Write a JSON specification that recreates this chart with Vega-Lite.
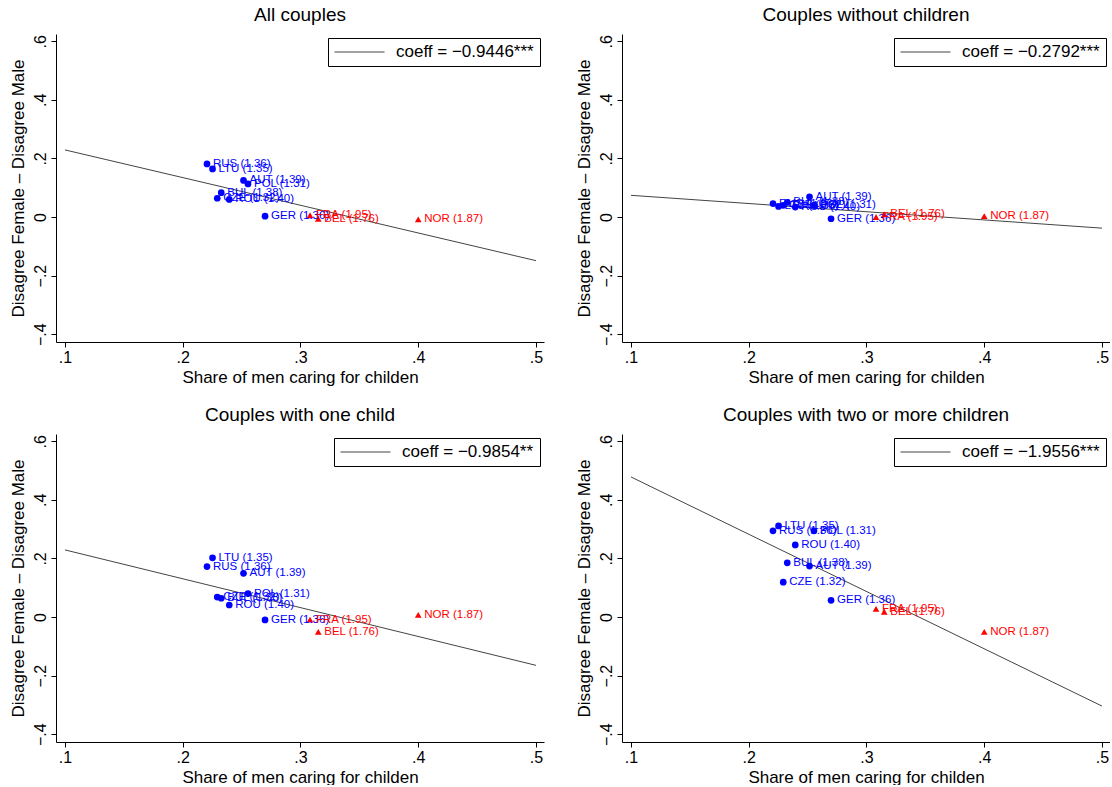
{
  "$schema": "https://vega.github.io/schema/vega-lite/v6.json",
  "background": "white",
  "padding": {"left": 9, "top": 6, "right": 0, "bottom": 0},
  "datasets": {
    "points": [
      {"panel": "all", "country": "RUS", "label": "RUS (1.36)", "group": "low", "x": 0.2206, "y": 0.181},
      {"panel": "all", "country": "LTU", "label": "LTU (1.35)", "group": "low", "x": 0.2253, "y": 0.164},
      {"panel": "all", "country": "AUT", "label": "AUT (1.39)", "group": "low", "x": 0.2516, "y": 0.125},
      {"panel": "all", "country": "POL", "label": "POL (1.31)", "group": "low", "x": 0.2554, "y": 0.113},
      {"panel": "all", "country": "BUL", "label": "BUL (1.38)", "group": "low", "x": 0.2327, "y": 0.083},
      {"panel": "all", "country": "CZE", "label": "CZE (1.32)", "group": "low", "x": 0.2293, "y": 0.064},
      {"panel": "all", "country": "ROU", "label": "ROU (1.40)", "group": "low", "x": 0.2395, "y": 0.060},
      {"panel": "all", "country": "GER", "label": "GER (1.36)", "group": "low", "x": 0.2699, "y": 0.003},
      {"panel": "all", "country": "FRA", "label": "FRA (1.95)", "group": "high", "x": 0.3081, "y": 0.006},
      {"panel": "all", "country": "BEL", "label": "BEL (1.76)", "group": "high", "x": 0.3151, "y": -0.006},
      {"panel": "all", "country": "NOR", "label": "NOR (1.87)", "group": "high", "x": 0.4000, "y": -0.008},

      {"panel": "none", "country": "RUS", "label": "RUS (1.36)", "group": "low", "x": 0.2206, "y": 0.046},
      {"panel": "none", "country": "LTU", "label": "LTU (1.35)", "group": "low", "x": 0.2253, "y": 0.036},
      {"panel": "none", "country": "AUT", "label": "AUT (1.39)", "group": "low", "x": 0.2516, "y": 0.069},
      {"panel": "none", "country": "POL", "label": "POL (1.31)", "group": "low", "x": 0.2554, "y": 0.040},
      {"panel": "none", "country": "BUL", "label": "BUL (1.38)", "group": "low", "x": 0.2327, "y": 0.050},
      {"panel": "none", "country": "CZE", "label": "CZE (1.32)", "group": "low", "x": 0.2293, "y": 0.040},
      {"panel": "none", "country": "ROU", "label": "ROU (1.40)", "group": "low", "x": 0.2395, "y": 0.034},
      {"panel": "none", "country": "GER", "label": "GER (1.36)", "group": "low", "x": 0.2699, "y": -0.006},
      {"panel": "none", "country": "FRA", "label": "FRA (1.95)", "group": "high", "x": 0.3081, "y": 0.000},
      {"panel": "none", "country": "BEL", "label": "BEL (1.76)", "group": "high", "x": 0.3151, "y": 0.009},
      {"panel": "none", "country": "NOR", "label": "NOR (1.87)", "group": "high", "x": 0.4000, "y": 0.003},

      {"panel": "one", "country": "LTU", "label": "LTU (1.35)", "group": "low", "x": 0.2253, "y": 0.202},
      {"panel": "one", "country": "RUS", "label": "RUS (1.36)", "group": "low", "x": 0.2206, "y": 0.172},
      {"panel": "one", "country": "AUT", "label": "AUT (1.39)", "group": "low", "x": 0.2516, "y": 0.149},
      {"panel": "one", "country": "POL", "label": "POL (1.31)", "group": "low", "x": 0.2554, "y": 0.080},
      {"panel": "one", "country": "BUL", "label": "BUL (1.38)", "group": "low", "x": 0.2327, "y": 0.064},
      {"panel": "one", "country": "CZE", "label": "CZE (1.32)", "group": "low", "x": 0.2293, "y": 0.068},
      {"panel": "one", "country": "ROU", "label": "ROU (1.40)", "group": "low", "x": 0.2395, "y": 0.041},
      {"panel": "one", "country": "GER", "label": "GER (1.36)", "group": "low", "x": 0.2699, "y": -0.010},
      {"panel": "one", "country": "FRA", "label": "FRA (1.95)", "group": "high", "x": 0.3081, "y": -0.009},
      {"panel": "one", "country": "BEL", "label": "BEL (1.76)", "group": "high", "x": 0.3151, "y": -0.051},
      {"panel": "one", "country": "NOR", "label": "NOR (1.87)", "group": "high", "x": 0.4000, "y": 0.007},

      {"panel": "two", "country": "LTU", "label": "LTU (1.35)", "group": "low", "x": 0.2253, "y": 0.311},
      {"panel": "two", "country": "RUS", "label": "RUS (1.36)", "group": "low", "x": 0.2206, "y": 0.294},
      {"panel": "two", "country": "POL", "label": "POL (1.31)", "group": "low", "x": 0.2554, "y": 0.294},
      {"panel": "two", "country": "ROU", "label": "ROU (1.40)", "group": "low", "x": 0.2395, "y": 0.246},
      {"panel": "two", "country": "BUL", "label": "BUL (1.38)", "group": "low", "x": 0.2327, "y": 0.185},
      {"panel": "two", "country": "AUT", "label": "AUT (1.39)", "group": "low", "x": 0.2516, "y": 0.174},
      {"panel": "two", "country": "CZE", "label": "CZE (1.32)", "group": "low", "x": 0.2293, "y": 0.119},
      {"panel": "two", "country": "GER", "label": "GER (1.36)", "group": "low", "x": 0.2699, "y": 0.057},
      {"panel": "two", "country": "FRA", "label": "FRA (1.95)", "group": "high", "x": 0.3081, "y": 0.028},
      {"panel": "two", "country": "BEL", "label": "BEL (1.76)", "group": "high", "x": 0.3151, "y": 0.018},
      {"panel": "two", "country": "NOR", "label": "NOR (1.87)", "group": "high", "x": 0.4000, "y": -0.051}
    ],
    "lines": [
      {"panel": "all", "coeff": "coeff = −0.9446***", "x": 0.1, "y": 0.229},
      {"panel": "all", "coeff": "coeff = −0.9446***", "x": 0.5, "y": -0.149},
      {"panel": "none", "coeff": "coeff = −0.2792***", "x": 0.1, "y": 0.074},
      {"panel": "none", "coeff": "coeff = −0.2792***", "x": 0.5, "y": -0.038},
      {"panel": "one", "coeff": "coeff = −0.9854**", "x": 0.1, "y": 0.229},
      {"panel": "one", "coeff": "coeff = −0.9854**", "x": 0.5, "y": -0.165},
      {"panel": "two", "coeff": "coeff = −1.9556***", "x": 0.1, "y": 0.478},
      {"panel": "two", "coeff": "coeff = −1.9556***", "x": 0.5, "y": -0.304}
    ]
  },
  "columns": 2,
  "spacing": {"row": 92, "column": 78},
  "bounds": "flush",
  "resolve": {"scale": {"stroke": "independent"}, "legend": {"stroke": "independent"}},
  "config": {
    "font": "Liberation Sans",
    "view": {"stroke": null},
    "axis": {
      "domainColor": "black", "tickColor": "black", "labelColor": "black", "titleColor": "black",
      "grid": false, "labelFont": "Liberation Sans", "titleFont": "Liberation Sans",
      "labelFontSize": 16, "titleFontSize": 17, "titleFontWeight": "normal", "tickSize": 5
    },
    "title": {"fontSize": 19, "fontWeight": "normal", "font": "Liberation Sans", "color": "black", "offset": 9},
    "legend": {
      "symbolType": "stroke", "symbolSize": 2500, "symbolStrokeWidth": 1, "clipHeight": 16,
      "labelFontSize": 17, "labelFont": "Liberation Sans", "labelColor": "black",
      "strokeColor": "black", "padding": 6, "fillColor": "white", "labelOffset": 11,
      "orient": "top-right", "offset": 4
    }
  },
  "concat": [
    {
      "title": "All couples",
      "width": 488, "height": 308,
      "encoding": {
        "x": {"field": "x", "type": "quantitative", "scale": {"domain": [0.09236, 0.5068], "nice": false, "zero": false},
          "axis": {"values": [0.1, 0.2, 0.3, 0.4, 0.5], "title": "Share of men caring for childen", "labelExpr": "replace(format(datum.value,'.1f'),'0.','.')", "labelPadding": 2, "titlePadding": 4, "labelFlush": false}},
        "y": {"field": "y", "type": "quantitative", "scale": {"domain": [-0.4266, 0.6246], "nice": false, "zero": false},
          "axis": {"values": [-0.4, -0.2, 0, 0.2, 0.4, 0.6], "title": "Disagree Female – Disagree Male", "labelAngle": -90, "labelAlign": "center", "labelBaseline": "bottom", "labelExpr": "datum.value == 0 ? '0' : replace(replace(format(datum.value,'.1f'),'0.','.'),'-','−')", "labelPadding": 3, "titlePadding": 5}}
      },
      "layer": [
        {"data": {"name": "lines"}, "transform": [{"filter": "datum.panel == 'all'"}],
          "mark": {"type": "line", "strokeWidth": 1},
          "encoding": {"stroke": {"field": "coeff", "type": "nominal", "scale": {"range": ["#444444"]}, "legend": {"title": null}}}},
        {"data": {"name": "points"}, "transform": [{"filter": "datum.panel == 'all'"}],
          "mark": {"type": "point", "filled": true, "opacity": 1, "size": 45},
          "encoding": {
            "color": {"field": "group", "type": "nominal", "scale": {"domain": ["low", "high"], "range": ["#0000ff", "#ff0000"]}, "legend": null},
            "shape": {"field": "group", "type": "nominal", "scale": {"domain": ["low", "high"], "range": ["circle", "triangle-up"]}, "legend": null}}},
        {"data": {"name": "points"}, "transform": [{"filter": "datum.panel == 'all'"}],
          "mark": {"type": "text", "align": "left", "baseline": "middle", "dx": 6, "fontSize": 11.5, "font": "Liberation Sans"},
          "encoding": {
            "text": {"field": "label"},
            "color": {"field": "group", "type": "nominal", "scale": {"domain": ["low", "high"], "range": ["#0000ff", "#ff0000"]}, "legend": null}}}
      ]
    },
    {
      "title": "Couples without children",
      "width": 488, "height": 308,
      "encoding": {
        "x": {"field": "x", "type": "quantitative", "scale": {"domain": [0.09236, 0.5068], "nice": false, "zero": false},
          "axis": {"values": [0.1, 0.2, 0.3, 0.4, 0.5], "title": "Share of men caring for childen", "labelExpr": "replace(format(datum.value,'.1f'),'0.','.')", "labelPadding": 2, "titlePadding": 4, "labelFlush": false}},
        "y": {"field": "y", "type": "quantitative", "scale": {"domain": [-0.4266, 0.6246], "nice": false, "zero": false},
          "axis": {"values": [-0.4, -0.2, 0, 0.2, 0.4, 0.6], "title": "Disagree Female – Disagree Male", "labelAngle": -90, "labelAlign": "center", "labelBaseline": "bottom", "labelExpr": "datum.value == 0 ? '0' : replace(replace(format(datum.value,'.1f'),'0.','.'),'-','−')", "labelPadding": 3, "titlePadding": 5}}
      },
      "layer": [
        {"data": {"name": "lines"}, "transform": [{"filter": "datum.panel == 'none'"}],
          "mark": {"type": "line", "strokeWidth": 1},
          "encoding": {"stroke": {"field": "coeff", "type": "nominal", "scale": {"range": ["#444444"]}, "legend": {"title": null}}}},
        {"data": {"name": "points"}, "transform": [{"filter": "datum.panel == 'none'"}],
          "mark": {"type": "point", "filled": true, "opacity": 1, "size": 45},
          "encoding": {
            "color": {"field": "group", "type": "nominal", "scale": {"domain": ["low", "high"], "range": ["#0000ff", "#ff0000"]}, "legend": null},
            "shape": {"field": "group", "type": "nominal", "scale": {"domain": ["low", "high"], "range": ["circle", "triangle-up"]}, "legend": null}}},
        {"data": {"name": "points"}, "transform": [{"filter": "datum.panel == 'none'"}],
          "mark": {"type": "text", "align": "left", "baseline": "middle", "dx": 6, "fontSize": 11.5, "font": "Liberation Sans"},
          "encoding": {
            "text": {"field": "label"},
            "color": {"field": "group", "type": "nominal", "scale": {"domain": ["low", "high"], "range": ["#0000ff", "#ff0000"]}, "legend": null}}}
      ]
    },
    {
      "title": "Couples with one child",
      "width": 488, "height": 308,
      "encoding": {
        "x": {"field": "x", "type": "quantitative", "scale": {"domain": [0.09236, 0.5068], "nice": false, "zero": false},
          "axis": {"values": [0.1, 0.2, 0.3, 0.4, 0.5], "title": "Share of men caring for childen", "labelExpr": "replace(format(datum.value,'.1f'),'0.','.')", "labelPadding": 2, "titlePadding": 4, "labelFlush": false}},
        "y": {"field": "y", "type": "quantitative", "scale": {"domain": [-0.4266, 0.6246], "nice": false, "zero": false},
          "axis": {"values": [-0.4, -0.2, 0, 0.2, 0.4, 0.6], "title": "Disagree Female – Disagree Male", "labelAngle": -90, "labelAlign": "center", "labelBaseline": "bottom", "labelExpr": "datum.value == 0 ? '0' : replace(replace(format(datum.value,'.1f'),'0.','.'),'-','−')", "labelPadding": 3, "titlePadding": 5}}
      },
      "layer": [
        {"data": {"name": "lines"}, "transform": [{"filter": "datum.panel == 'one'"}],
          "mark": {"type": "line", "strokeWidth": 1},
          "encoding": {"stroke": {"field": "coeff", "type": "nominal", "scale": {"range": ["#444444"]}, "legend": {"title": null}}}},
        {"data": {"name": "points"}, "transform": [{"filter": "datum.panel == 'one'"}],
          "mark": {"type": "point", "filled": true, "opacity": 1, "size": 45},
          "encoding": {
            "color": {"field": "group", "type": "nominal", "scale": {"domain": ["low", "high"], "range": ["#0000ff", "#ff0000"]}, "legend": null},
            "shape": {"field": "group", "type": "nominal", "scale": {"domain": ["low", "high"], "range": ["circle", "triangle-up"]}, "legend": null}}},
        {"data": {"name": "points"}, "transform": [{"filter": "datum.panel == 'one'"}],
          "mark": {"type": "text", "align": "left", "baseline": "middle", "dx": 6, "fontSize": 11.5, "font": "Liberation Sans"},
          "encoding": {
            "text": {"field": "label"},
            "color": {"field": "group", "type": "nominal", "scale": {"domain": ["low", "high"], "range": ["#0000ff", "#ff0000"]}, "legend": null}}}
      ]
    },
    {
      "title": "Couples with two or more children",
      "width": 488, "height": 308,
      "encoding": {
        "x": {"field": "x", "type": "quantitative", "scale": {"domain": [0.09236, 0.5068], "nice": false, "zero": false},
          "axis": {"values": [0.1, 0.2, 0.3, 0.4, 0.5], "title": "Share of men caring for childen", "labelExpr": "replace(format(datum.value,'.1f'),'0.','.')", "labelPadding": 2, "titlePadding": 4, "labelFlush": false}},
        "y": {"field": "y", "type": "quantitative", "scale": {"domain": [-0.4266, 0.6246], "nice": false, "zero": false},
          "axis": {"values": [-0.4, -0.2, 0, 0.2, 0.4, 0.6], "title": "Disagree Female – Disagree Male", "labelAngle": -90, "labelAlign": "center", "labelBaseline": "bottom", "labelExpr": "datum.value == 0 ? '0' : replace(replace(format(datum.value,'.1f'),'0.','.'),'-','−')", "labelPadding": 3, "titlePadding": 5}}
      },
      "layer": [
        {"data": {"name": "lines"}, "transform": [{"filter": "datum.panel == 'two'"}],
          "mark": {"type": "line", "strokeWidth": 1},
          "encoding": {"stroke": {"field": "coeff", "type": "nominal", "scale": {"range": ["#444444"]}, "legend": {"title": null}}}},
        {"data": {"name": "points"}, "transform": [{"filter": "datum.panel == 'two'"}],
          "mark": {"type": "point", "filled": true, "opacity": 1, "size": 45},
          "encoding": {
            "color": {"field": "group", "type": "nominal", "scale": {"domain": ["low", "high"], "range": ["#0000ff", "#ff0000"]}, "legend": null},
            "shape": {"field": "group", "type": "nominal", "scale": {"domain": ["low", "high"], "range": ["circle", "triangle-up"]}, "legend": null}}},
        {"data": {"name": "points"}, "transform": [{"filter": "datum.panel == 'two'"}],
          "mark": {"type": "text", "align": "left", "baseline": "middle", "dx": 6, "fontSize": 11.5, "font": "Liberation Sans"},
          "encoding": {
            "text": {"field": "label"},
            "color": {"field": "group", "type": "nominal", "scale": {"domain": ["low", "high"], "range": ["#0000ff", "#ff0000"]}, "legend": null}}}
      ]
    }
  ]
}
